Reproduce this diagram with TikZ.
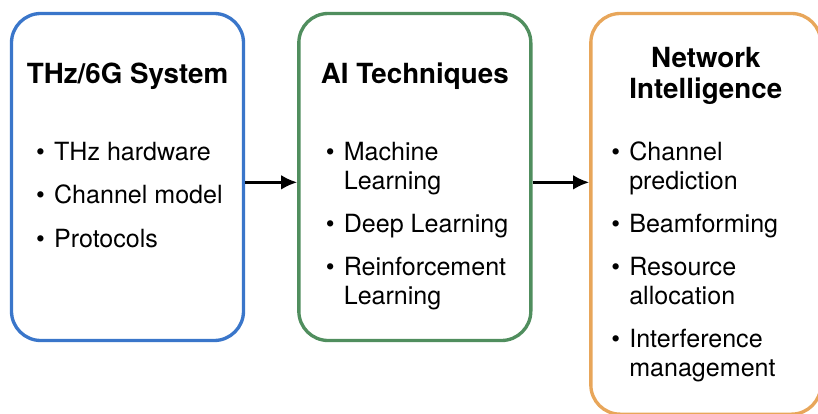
\documentclass[tikz,border=0pt]{standalone}
\usepackage{fontspec}
\setmainfont{TeX Gyre Heros}
\usepackage{xcolor}
\usepackage{tikz}
\usetikzlibrary{positioning,arrows.meta}

\definecolor{sysblue}{RGB}{58,118,202}
\definecolor{aigreen}{RGB}{80,142,94}
\definecolor{netorange}{RGB}{232,166,90}

\newcommand{\bul}{\makebox[13.5pt][l]{\textbullet}}
\newcommand{\cont}{\hspace*{13.5pt}}

\begin{document}
\begin{tikzpicture}[>={Latex[length=12pt,width=11pt]},x=0.75pt,y=-0.75pt,
        box/.style={draw,line width=2.5pt,rounded corners=22pt,minimum width=174pt,minimum height=245.25pt,inner sep=0pt},
        title/.style={font=\fontsize{20.8}{23.25}\selectfont\bfseries,align=center,inner sep=0pt},
        list/.style={font=\fontsize{18.8}{21.75}\selectfont,align=left,inner sep=0pt,anchor=north west}]
    \useasboundingbox (0,0) rectangle (818,414);
    \node [box,draw=sysblue] (sys) at (127.5,177) {};
    \node [box,draw=aigreen,right=39pt of sys] (ai) {};
    \node [box,draw=netorange,minimum width=172.5pt,minimum height=300.5pt,right=42.5pt of ai.north east,anchor=north west] (net) {};
    \node [title,below=37.8pt of sys.north] (sysT) {THz/6G System};
    \node [title,below=37.8pt of ai.north] (aiT) {AI Techniques};
    \node [title,below=26.5pt of net.north] (netT) {Network\\Intelligence};
    \node [list] (sysL) at ([xshift=19.5pt,yshift=-97.3pt]sys.north west)
        {\bul THz hardware\\[11pt] \bul Channel model\\[11pt] \bul Protocols};
    \node [list] (aiL) at ([xshift=21.3pt,yshift=-97.3pt]ai.north west)
        {\bul Machine\\ \cont Learning\\[10.5pt] \bul Deep Learning\\[10.5pt] \bul Reinforcement\\ \cont Learning};
    \node [list] (netL) at ([xshift=16.4pt,yshift=-97.3pt]net.north west)
        {\bul Channel\\ \cont prediction\\[10.5pt] \bul Beamforming\\[10.5pt] \bul Resource\\ \cont allocation\\[10.5pt] \bul Interference\\ \cont management};
    \draw [->,line width=1.9pt] ([yshift=-4pt]sys.east) -- ([yshift=-4pt]ai.west);
    \draw [->,line width=1.9pt] ([yshift=-4pt]ai.east) -- ([yshift=-4pt]ai.east -| net.west);
\end{tikzpicture}
\end{document}
